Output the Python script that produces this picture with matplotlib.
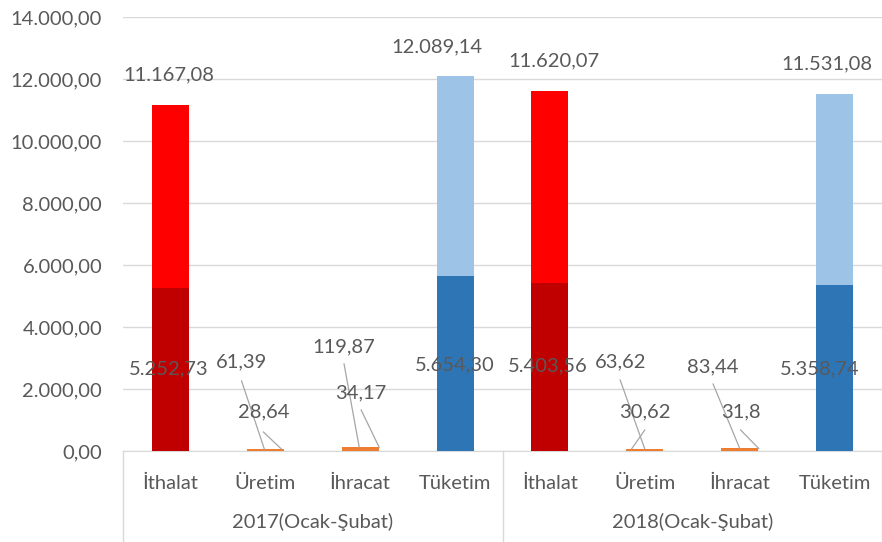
import matplotlib.pyplot as plt
from matplotlib.ticker import FuncFormatter

plt.rcParams['font.family'] = ['Lato', 'DejaVu Sans']

groups = ["2017(Ocak-Şubat)", "2018(Ocak-Şubat)"]
categories = ["İthalat", "Üretim", "İhracat", "Tüketim"]
# overlapping bars: full value (light) and inner value (dark)
full_2017 = [11167.08, 61.39, 119.87, 12089.14]
inner_2017 = [5252.73, 28.64, 34.17, 5654.30]
full_2018 = [11620.07, 63.62, 83.44, 11531.08]
inner_2018 = [5403.56, 30.62, 31.8, 5358.74]
full_labels = ["11.167,08", "61,39", "119,87", "12.089,14",
               "11.620,07", "63,62", "83,44", "11.531,08"]
inner_labels = ["5.252,73", "28,64", "34,17", "5.654,30",
                "5.403,56", "30,62", "31,8", "5.358,74"]

light_colors = ["#FF0000", "#ED7D31", "#ED7D31", "#9DC3E6"] * 2
dark_colors = ["#C00000", "#ED7D31", "#ED7D31", "#2E75B6"] * 2
txt = "#595959"
fs = 14.5

full = full_2017 + full_2018
inner = inner_2017 + inner_2018
x = list(range(len(full)))

fig = plt.figure(figsize=(8.82, 5.42), dpi=100)
ax = fig.add_axes([123 / 882, 91 / 542, 759 / 882, 434 / 542])

w = 0.39
ax.bar(x, full, width=w, color=light_colors, zorder=2)
ax.bar(x, inner, width=w, color=dark_colors, zorder=3)

ax.set_xlim(-0.5, 7.5)
ax.set_ylim(0, 14000)
ax.set_yticks(range(0, 14001, 2000))
ax.yaxis.set_major_formatter(FuncFormatter(
    lambda v, p: f"{v:,.2f}".replace(",", "X").replace(".", ",").replace("X", ".")))
ax.grid(axis="y", color="#D9D9D9", linewidth=1, zorder=0)
for s in ["top", "right", "left"]:
    ax.spines[s].set_visible(False)
ax.spines["bottom"].set_color("#D9D9D9")
ax.tick_params(axis="y", length=0, pad=15, labelsize=fs, labelcolor=txt)
ax.set_xticks(x)
ax.set_xticklabels(categories * 2)
ax.tick_params(axis="x", length=0, pad=17, labelsize=fs, labelcolor=txt)

# group labels and dividers
trans = ax.get_xaxis_transform()
for gi, g in enumerate(groups):
    ax.text(1.5 + 4 * gi, -0.163, g, transform=trans, ha="center", va="center",
            fontsize=fs, color=txt)
for xd in [-0.5, 3.5, 7.5]:
    ax.plot([xd, xd], [0, -0.21], transform=trans, color="#D9D9D9",
            linewidth=1, clip_on=False)

# label placement: x offset and y for large bars
top_dx = [-0.02, 0, 0, -0.19, 0.04, 0, 0, -0.08]
inner_dx = [-0.02, 0, 0, 0, -0.02, 0, 0, -0.16]
inner_y = [2650, 0, 0, 2780, 2740, 0, 0, 2650]
for i in [0, 3, 4, 7]:
    ax.text(x[i] + top_dx[i], full[i] + 960, full_labels[i], ha="center",
            va="center", fontsize=fs, color=txt, zorder=5)
    ax.text(x[i] + inner_dx[i], inner_y[i], inner_labels[i], ha="center",
            va="center", fontsize=fs, color=txt, zorder=5)

# small bars with leader lines
small = [
    # index, text, label dx, label y, line start y, line end dx
    (1, full_labels[1], -0.25, 2870, 2258, -0.01),
    (1, inner_labels[1], -0.02, 1258, 613, 0.17),
    (2, full_labels[2], -0.17, 3355, 2806, -0.01),
    (2, inner_labels[2], 0.01, 1871, 1323, 0.20),
    (5, full_labels[5], -0.26, 2870, 2290, 0.0),
    (5, inner_labels[5], 0.0, 1258, 677, -0.14),
    (6, full_labels[6], -0.28, 2710, 2161, 0.0),
    (6, inner_labels[6], 0.01, 1258, 677, 0.20),
]
for i, t, lx, ly, y0, x1 in small:
    ax.text(x[i] + lx, ly, t, ha="center", va="center", fontsize=fs,
            color=txt, zorder=5)
    ax.plot([x[i] + lx, x[i] + x1], [y0, full[i]], color="#A6A6A6",
            linewidth=0.9, zorder=4)

fig.savefig("out.png", dpi=100)
